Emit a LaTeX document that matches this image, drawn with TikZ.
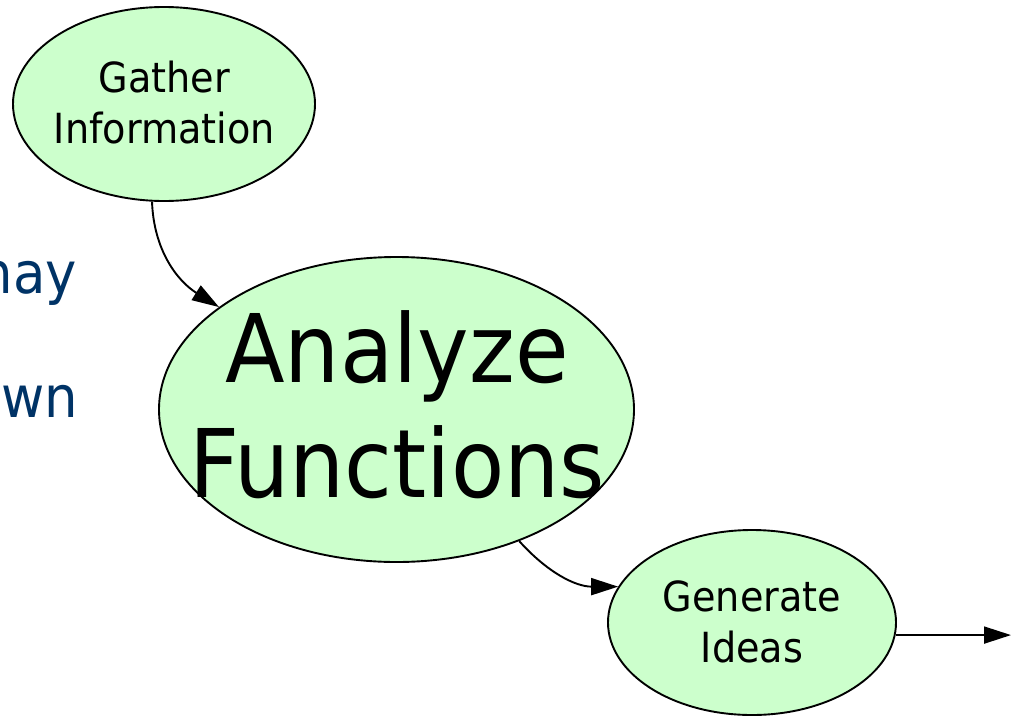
\documentclass[tikz,border=0pt]{standalone}
\usepackage{fontspec}
\newfontfamily\nodefont{DejaVu Sans}[FakeStretch=0.92]
\usetikzlibrary{shapes.geometric,arrows.meta}
\definecolor{blobfill}{RGB}{204,255,204}
\definecolor{slideblue}{RGB}{0,51,102}

\begin{document}
\begin{tikzpicture}[x=1pt,y=-1pt,
  blob/.style={ellipse,draw=black,line width=1.9pt,fill=blobfill,inner sep=0pt},
  bigtext/.style={font=\nodefont\fontsize{94.7}{115}\selectfont,align=center,anchor=base,inner sep=0pt},
  smalltext/.style={font=\nodefont\fontsize{41.5}{51}\selectfont,align=center,anchor=base,inner sep=0pt},
  arr/.style={line width=1.9pt,-{Triangle[length=27pt,width=17pt]}},
  sidetext/.style={font=\nodefont\fontsize{57.5}{70}\selectfont,text=slideblue,anchor=base east,inner sep=0pt}
]
\useasboundingbox (0,0) rectangle (1019,715);

% slide text running in from the left
\node[sidetext] (may) at (77,293) {nay};
\node[sidetext] (own) at (78,417) {wn};

% process steps (text nodes are anchored on the baseline of their last line)
\node[blob,minimum width=302pt,minimum height=194pt] (ga) at (164,104) {};
\node[smalltext] (gaT) at (164.5,143) {Gather\\Information};

\node[blob,minimum width=475pt,minimum height=305pt] (an) at (396.5,409.5) {};
\node[bigtext] (anT) at (397,497) {Analyze\\Functions};

\node[blob,minimum width=288pt,minimum height=185pt] (gi) at (752,622.5) {};
\node[smalltext] (giT) at (752,662) {Generate\\Ideas};

\coordinate (next) at (1011,634);

% flow between the steps
\draw[arr] (ga.-97) to[out=-88,in=148] (an.150);
\draw[arr] (an.-47) to[out=-48,in=180] (gi.165);
\draw[arr] (gi.-5) -- (gi.-5 -| next);
\end{tikzpicture}
\end{document}
